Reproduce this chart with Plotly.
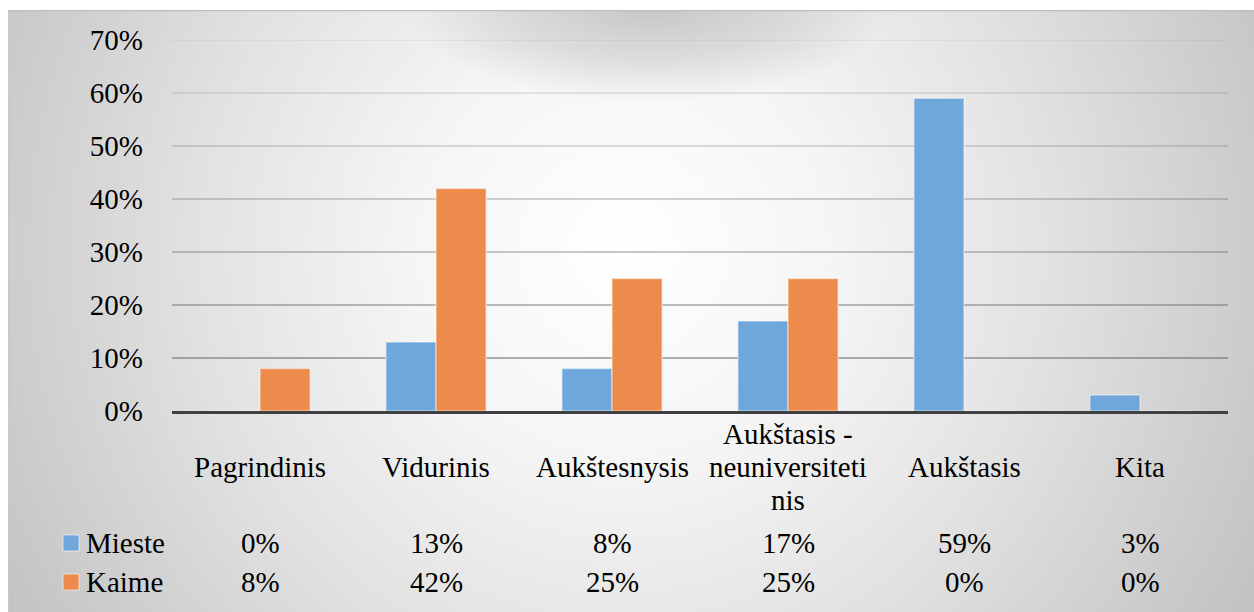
import base64
import plotly.graph_objects as go

# Education level by place of residence
categories = ["Pagrindinis", "Vidurinis", "Aukštesnysis",
              "Aukštasis - neuniversitetinis", "Aukštasis", "Kita"]
category_lines = [["Pagrindinis"], ["Vidurinis"], ["Aukštesnysis"],
                  ["Aukštasis -", "neuniversiteti", "nis"], ["Aukštasis"], ["Kita"]]
series_names = ["Mieste", "Kaime"]
mieste = [0, 13, 8, 17, 59, 3]
kaime = [8, 42, 25, 25, 0, 0]
y_ticks = [0, 10, 20, 30, 40, 50, 60, 70]

colors = ["#6FA7DA", "#EC8B4C"]
FONT = "'Liberation Serif', 'DejaVu Serif', 'Noto Serif', serif"
FS = 29

W, H = 1254, 612
ML, MR, MT, MB = 172, 26, 40, 201
PW, PH = W - ML - MR, H - MT - MB


def px_x(px):
    """pixel column -> paper x"""
    return (px - ML) / PW


def px_y(py):
    """pixel row -> paper y"""
    return 1 - (py - MT) / PH


# soft radial chart-area background with a shaded cap at the top
svg = f"""<svg xmlns='http://www.w3.org/2000/svg' width='1246' height='602' viewBox='0 0 1246 602'>
<defs>
<radialGradient id='g' gradientUnits='userSpaceOnUse' cx='615' cy='240' r='710'>
<stop offset='0' stop-color='#ffffff'/>
<stop offset='0.3' stop-color='#f5f5f5'/>
<stop offset='0.6' stop-color='#e2e2e2'/>
<stop offset='0.87' stop-color='#cdcdcd'/>
<stop offset='1' stop-color='#c3c3c3'/>
</radialGradient>
<radialGradient id='s' cx='0.5' cy='0' r='0.5'>
<stop offset='0' stop-color='#000' stop-opacity='0.18'/>
<stop offset='0.55' stop-color='#000' stop-opacity='0.10'/>
<stop offset='1' stop-color='#000' stop-opacity='0'/>
</radialGradient>
</defs>
<rect x='0' y='0' width='1246' height='602' fill='url(#g)'/>
<rect x='400' y='0' width='480' height='185' fill='url(#s)'/>
<line x1='0' y1='0.5' x2='1246' y2='0.5' stroke='#bdbdbd' stroke-width='1.5'/>
<line x1='0.5' y1='0' x2='0.5' y2='602' stroke='#c8c8c8' stroke-width='1'/>
</svg>"""
bg_uri = "data:image/svg+xml;base64," + base64.b64encode(svg.encode()).decode()

fig = go.Figure()
for name, vals, col in zip(series_names, [mieste, kaime], colors):
    fig.add_trace(go.Bar(
        x=categories, y=vals, name=name,
        marker=dict(color=col, line=dict(color="rgba(255,255,255,0.45)", width=1.5)),
        showlegend=False,
    ))

shapes = []
# gridlines fade from darker at the base to faint at the top
top = max(y_ticks)
for t in y_ticks[1:]:
    alpha = 0.66 - 0.56 * (t - 10) / (top - 10)
    shapes.append(dict(type="line", xref="paper", yref="y", x0=0, x1=1, y0=t, y1=t,
                       line=dict(color=f"rgba(96,96,96,{alpha:.3f})", width=1.4),
                       layer="below"))

annotations = []
# category labels of the data table
LINE_H = 33
for cat, lines in zip(categories, category_lines):
    n = len(lines)
    for i, ln in enumerate(lines):
        row = 467 + (i - (n - 1) / 2) * LINE_H
        annotations.append(dict(x=cat, xref="x", y=px_y(row), yref="paper",
                                text=ln, showarrow=False, xanchor="center",
                                yanchor="middle", font=dict(family=FONT, size=FS, color="#000")))

# value rows with legend keys
for name, vals, col, row in zip(series_names, [mieste, kaime], colors, [543, 582]):
    annotations.append(dict(x=px_x(84), xref="paper", y=px_y(row), yref="paper",
                            text=name, showarrow=False, xanchor="left", yanchor="middle",
                            font=dict(family=FONT, size=FS, color="#000")))
    shapes.append(dict(type="rect", xref="paper", yref="paper",
                       x0=px_x(63), x1=px_x(79), y0=px_y(row + 8), y1=px_y(row - 8),
                       fillcolor=col, line=dict(color="rgba(255,255,255,0.6)", width=1)))
    for cat, v in zip(categories, vals):
        annotations.append(dict(x=cat, xref="x", y=px_y(row), yref="paper",
                                text=f"{v}%", showarrow=False, xanchor="center",
                                yanchor="middle", font=dict(family=FONT, size=FS, color="#000")))

fig.update_layout(
    width=W, height=H,
    margin=dict(l=ML, r=MR, t=MT, b=MB, pad=0),
    paper_bgcolor="white",
    plot_bgcolor="rgba(0,0,0,0)",
    barmode="group", bargap=0.43, bargroupgap=0,
    font=dict(family=FONT, size=FS, color="#000"),
    images=[dict(source=bg_uri, xref="paper", yref="paper",
                 x=px_x(8), y=px_y(10), sizex=1246 / PW, sizey=602 / PH,
                 xanchor="left", yanchor="top", sizing="stretch", layer="below")],
    annotations=annotations,
    shapes=shapes,
    xaxis=dict(type="category", showticklabels=False, showgrid=False,
               showline=True, linecolor="#404040", linewidth=3, ticks=""),
    yaxis=dict(range=[0, 70], tickvals=y_ticks, ticktext=[f"{t}%" for t in y_ticks],
               showgrid=False, zeroline=False, showline=False, ticks="",
               ticklabelstandoff=28, tickfont=dict(family=FONT, size=FS, color="#000")),
)

fig.write_html("out.html")
